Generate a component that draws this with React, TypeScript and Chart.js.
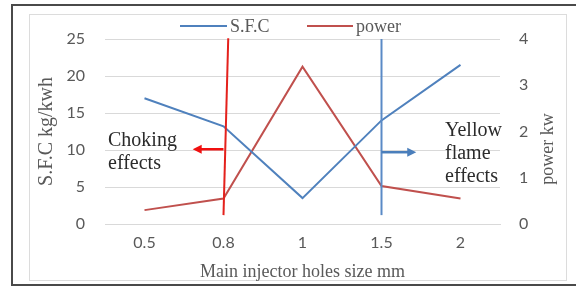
import React, { useEffect, useRef } from "react";
import { Chart, registerables } from "chart.js";

Chart.register(...registerables);

const categories = ["0.5", "0.8", "1", "1.5", "2"];
const sfcValues = [17, 13.2, 3.5, 14, 21.5];
const powerValues = [0.3, 0.55, 3.4, 0.82, 0.55];
const leftRange = [0, 25];
const rightRange = [0, 4];
const leftStep = 5;
const rightStep = 1;

// vertical marker lines: category position at bottom/top, left-axis values
const markerX = [1, 3];
const markerXTop = [1.06, 3];
const markerYBottom = [1.2, 1.2];
const markerYTop = [25.1, 25];
// arrows: start/end category positions and left-axis value
const arrowFrom = [1, 3];
const arrowTo = [0.61, 3.44];
const arrowY = [10.1, 9.7];
const chokingText = ["Choking", "effects"];
const yellowText = ["Yellow", "flame", "effects"];

const BLUE = "#4F81BD";
const RED = "#C0504D";
const BRIGHT_RED = "#E4211C";
const GRID = "#D9D9D9";
const AXIS_TEXT = "#595959";
const SERIF = "'Liberation Serif', 'Times New Roman', serif";
const SANS = "Lato, 'Open Sans', sans-serif";

function arrow(ctx: CanvasRenderingContext2D, x1: number, y: number, x2: number, color: string) {
  const dir = x2 > x1 ? 1 : -1;
  ctx.save();
  ctx.strokeStyle = color;
  ctx.fillStyle = color;
  ctx.lineWidth = 2.5;
  ctx.beginPath();
  ctx.moveTo(x1, y);
  ctx.lineTo(x2 - dir * 7, y);
  ctx.stroke();
  ctx.beginPath();
  ctx.moveTo(x2, y);
  ctx.lineTo(x2 - dir * 9, y - 4.5);
  ctx.lineTo(x2 - dir * 9, y + 4.5);
  ctx.closePath();
  ctx.fill();
  ctx.restore();
}

const decorPlugin = {
  id: "decor",
  beforeDraw(chart: any) {
    const ctx = chart.ctx as CanvasRenderingContext2D;
    ctx.save();
    ctx.fillStyle = "#fff";
    ctx.fillRect(0, 0, chart.width, chart.height);
    // outer dark frame
    ctx.strokeStyle = "#4a4a4a";
    ctx.lineWidth = 2;
    ctx.beginPath();
    ctx.moveTo(chart.width + 2, 5);
    ctx.lineTo(12, 5);
    ctx.lineTo(12, 285);
    ctx.lineTo(chart.width + 2, 285);
    ctx.stroke();
    // inner light frame
    ctx.strokeStyle = "#DCDCDC";
    ctx.lineWidth = 1;
    ctx.strokeRect(29.5, 14.5, 537, 266);
    ctx.restore();
  },
  afterDatasetsDraw(chart: any) {
    const ctx = chart.ctx as CanvasRenderingContext2D;
    const xs = chart.scales.x;
    const ys = chart.scales.y;
    const colors = [BRIGHT_RED, "#5A8AC6"];
    ctx.save();
    ctx.lineWidth = 2;
    for (let i = 0; i < markerX.length; i++) {
      ctx.strokeStyle = colors[i];
      ctx.beginPath();
      ctx.moveTo(xs.getPixelForValue(markerX[i]), ys.getPixelForValue(markerYBottom[i]));
      ctx.lineTo(xs.getPixelForValue(markerXTop[i]), ys.getPixelForValue(markerYTop[i]));
      ctx.stroke();
    }
    const arrowColors = ["#F01010", "#4A7EBB"];
    for (let i = 0; i < arrowFrom.length; i++) {
      arrow(
        ctx,
        xs.getPixelForValue(arrowFrom[i]),
        ys.getPixelForValue(arrowY[i]),
        xs.getPixelForValue(arrowTo[i]),
        arrowColors[i]
      );
    }
    ctx.restore();
  },
  afterDraw(chart: any) {
    const ctx = chart.ctx as CanvasRenderingContext2D;
    ctx.save();
    // legend
    const legendY = 26;
    const items = [
      { label: "S.F.C", color: BLUE, x0: 180, x1: 227 },
      { label: "power", color: RED, x0: 307, x1: 353 },
    ];
    ctx.font = `18px ${SERIF}`;
    ctx.textBaseline = "middle";
    ctx.textAlign = "left";
    for (const it of items) {
      ctx.strokeStyle = it.color;
      ctx.lineWidth = 2;
      ctx.beginPath();
      ctx.moveTo(it.x0, legendY);
      ctx.lineTo(it.x1, legendY);
      ctx.stroke();
      ctx.fillStyle = AXIS_TEXT;
      ctx.fillText(it.label, it.x1 + 3, legendY + 1);
    }
    // annotation texts
    ctx.fillStyle = "#2b2b2b";
    ctx.font = `20px ${SERIF}`;
    ctx.textBaseline = "alphabetic";
    chokingText.forEach((t, i) => ctx.fillText(t, 108, 146 + i * 23));
    yellowText.forEach((t, i) => ctx.fillText(t, 445, 136 + i * 23));
    // right axis title (reads bottom to top)
    ctx.fillStyle = AXIS_TEXT;
    ctx.font = `18px ${SERIF}`;
    ctx.translate(548, 149);
    ctx.rotate(-Math.PI / 2);
    ctx.textAlign = "center";
    ctx.textBaseline = "middle";
    ctx.fillText("power kw", 0, 0);
    ctx.restore();
  },
};

export default function App() {
  const canvasRef = useRef<HTMLCanvasElement | null>(null);

  useEffect(() => {
    document.body.style.margin = "0";
    const canvas = canvasRef.current;
    if (!canvas) return;
    const chart = new Chart(canvas, {
      type: "line",
      data: {
        labels: categories,
        datasets: [
          {
            label: "S.F.C",
            data: sfcValues,
            borderColor: BLUE,
            backgroundColor: BLUE,
            borderWidth: 2,
            pointRadius: 0,
            tension: 0,
            yAxisID: "y",
          },
          {
            label: "power",
            data: powerValues,
            borderColor: RED,
            backgroundColor: RED,
            borderWidth: 2,
            pointRadius: 0,
            tension: 0,
            yAxisID: "y1",
          },
        ],
      },
      options: {
        animation: false,
        responsive: false,
        devicePixelRatio: 1,
        events: [],
        layout: { padding: { top: 39, left: 31, right: 0, bottom: 0 } },
        plugins: {
          legend: { display: false },
          tooltip: { enabled: false },
          title: { display: false },
        },
        scales: {
          x: {
            type: "category",
            offset: true,
            grid: { display: false, drawTicks: false },
            border: { display: true, color: GRID },
            ticks: {
              color: AXIS_TEXT,
              font: { family: SANS, size: 16 },
              padding: 9,
              maxRotation: 0,
            },
            title: {
              display: true,
              text: "Main injector holes size mm",
              color: AXIS_TEXT,
              font: { family: SERIF, size: 18 },
              padding: { top: 4, bottom: 4 },
            },
            afterFit(scale: any) {
              scale.height = 63;
            },
          },
          y: {
            type: "linear",
            position: "left",
            min: leftRange[0],
            max: leftRange[1],
            ticks: {
              stepSize: leftStep,
              color: AXIS_TEXT,
              font: { family: SANS, size: 16 },
              padding: 20,
            },
            grid: { color: GRID, lineWidth: 1, drawTicks: false },
            border: { display: false },
            title: {
              display: true,
              text: "S.F.C kg/kwh",
              color: AXIS_TEXT,
              font: { family: SERIF, size: 20 },
              padding: { top: 4, bottom: 4 },
            },
            afterFit(scale: any) {
              scale.width = 74;
            },
          },
          y1: {
            type: "linear",
            position: "right",
            min: rightRange[0],
            max: rightRange[1],
            ticks: {
              stepSize: rightStep,
              color: AXIS_TEXT,
              font: { family: SANS, size: 16 },
              padding: 19,
            },
            grid: { display: false, drawTicks: false },
            border: { display: false },
            afterFit(scale: any) {
              scale.width = 76;
            },
          },
        },
      } as any,
      plugins: [decorPlugin],
    });
    return () => chart.destroy();
  }, []);

  return (
    <div style={{ width: 576, height: 287 }}>
      <canvas ref={canvasRef} width={576} height={287} style={{ display: "block" }} />
    </div>
  );
}
